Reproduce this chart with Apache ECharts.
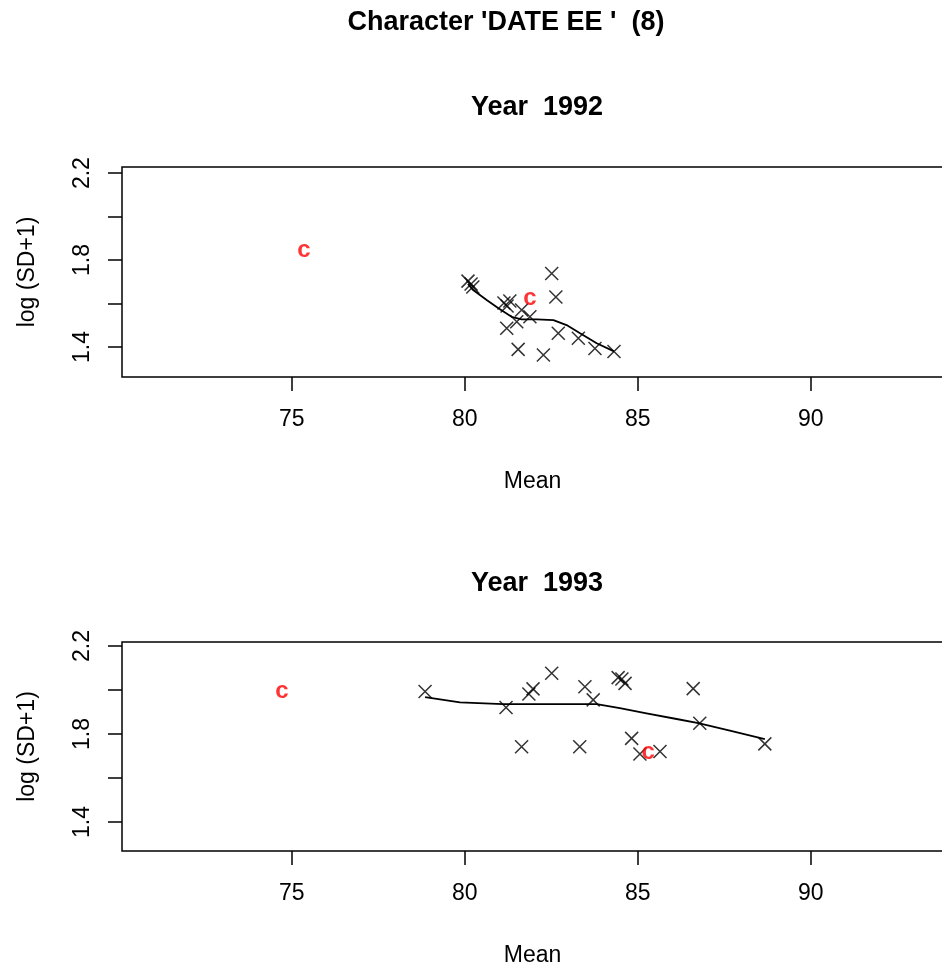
<!DOCTYPE html>
<html>
<head>
<meta charset="utf-8">
<script src="https://cdn.jsdelivr.net/npm/echarts@6/dist/echarts.min.js"></script>
<style>
html,body{margin:0;padding:0;background:#fff;overflow:hidden;}
#chart{width:942px;height:969px;}
</style>
</head>
<body>
<div id="chart"></div>
<script>
// ---- data ----
const mainTitle = "Character 'DATE EE '  (8)";
const panelTitles = ["Year  1992", "Year  1993"];
const xTicks = [75, 80, 85, 90];
const yTicks = [1.4, 1.6, 1.8, 2.0, 2.2];
const yTickLabels = [1.4, 1.8, 2.2];

// Year 1992: samples (x = mean, y = log(SD+1))
const points1992 = [
  [80.09, 1.703], [80.18, 1.690], [80.23, 1.676], [82.51, 1.738], [82.63, 1.630],
  [81.13, 1.602], [81.30, 1.612], [81.22, 1.589], [81.64, 1.570], [81.88, 1.539],
  [81.50, 1.516], [81.21, 1.486], [82.70, 1.463], [83.28, 1.440], [83.76, 1.393],
  [84.31, 1.379], [81.54, 1.389], [82.27, 1.363]
];
const control1992 = [[75.35, 1.851], [81.88, 1.630]];
const smooth1992 = [
  [80.09, 1.690], [80.24, 1.662], [80.63, 1.616], [80.97, 1.578], [81.35, 1.539],
  [81.64, 1.527], [82.08, 1.527], [82.56, 1.524], [82.94, 1.501], [83.33, 1.463],
  [83.81, 1.417], [84.31, 1.380]
];

// Year 1993
const points1993 = [
  [78.85, 1.993], [81.19, 1.920], [81.85, 1.982], [81.97, 2.005], [82.51, 2.076],
  [83.47, 2.015], [83.71, 1.955], [84.43, 2.056], [84.54, 2.050], [84.63, 2.030],
  [86.60, 2.006], [86.79, 1.849], [88.67, 1.755], [81.64, 1.742], [83.32, 1.742],
  [84.82, 1.780], [85.06, 1.709], [85.64, 1.720]
];
const control1993 = [[74.71, 2.000], [85.30, 1.720]];
const smooth1993 = [
  [78.85, 1.967], [79.86, 1.944], [81.10, 1.936], [82.17, 1.936], [83.81, 1.936],
  [84.48, 1.917], [85.25, 1.894], [86.12, 1.868], [86.75, 1.849], [87.66, 1.815],
  [88.67, 1.777]
];

// ---- chart ----
const FONT = '"Liberation Sans", Arial, Helvetica, sans-serif';
const chart = echarts.init(document.getElementById('chart'), null, {renderer: 'canvas'});

function xAxisDef(gi) {
  return {
    type: 'value', gridIndex: gi, min: 70.09, max: 93.82,
    name: 'Mean', nameLocation: 'middle', nameGap: 93,
    nameTextStyle: {fontFamily: FONT, fontSize: 23, color: '#000'},
    axisLine: {show: false},
    axisTick: {show: true, length: 14, inside: false, customValues: xTicks,
               lineStyle: {color: '#000', width: 1.5}},
    axisLabel: {show: true, customValues: xTicks, margin: 31,
                fontFamily: FONT, fontSize: 23, color: '#000', lineHeight: 23},
    splitLine: {show: false}
  };
}
function yAxisDef(gi, mn, mx) {
  return {
    type: 'value', gridIndex: gi, min: mn, max: mx,
    name: 'log (SD+1)', nameLocation: 'middle', nameGap: 83, nameRotate: 90,
    nameTextStyle: {fontFamily: FONT, fontSize: 23, color: '#000'},
    axisLine: {show: false},
    axisTick: {show: true, length: 14, inside: false, customValues: yTicks,
               lineStyle: {color: '#000', width: 1.5}},
    axisLabel: {show: true, customValues: yTickLabels, margin: 28, rotate: 90,
                fontFamily: FONT, fontSize: 23, color: '#000', lineHeight: 23,
                formatter: v => v.toFixed(1)},
    splitLine: {show: false}
  };
}
const crossSymbol = 'path://M0,0L10,10M10,0L0,10';
function crossSeries(idx, data) {
  return {
    type: 'scatter', xAxisIndex: idx, yAxisIndex: idx, data: data,
    symbol: crossSymbol, symbolSize: 13, silent: true,
    itemStyle: {color: 'rgba(0,0,0,0)', borderColor: '#000', borderWidth: 1.5}
  };
}
function controlSeries(idx, data) {
  return {
    type: 'scatter', xAxisIndex: idx, yAxisIndex: idx, data: data,
    symbol: 'circle', symbolSize: 2, silent: true, z: 5,
    itemStyle: {color: 'rgba(255,255,255,0)', borderWidth: 0},
    label: {show: true, formatter: 'c', position: 'inside', offset: [0, 1],
            color: '#ff0000', fontFamily: FONT, fontSize: 24, fontWeight: 'bold'}
  };
}
function lineSeries(idx, data) {
  return {
    type: 'line', xAxisIndex: idx, yAxisIndex: idx, data: data,
    symbol: 'none', silent: true, smooth: false,
    lineStyle: {color: '#000', width: 1.8}
  };
}

const option = {
  backgroundColor: '#fff',
  animation: false,
  grid: [
    {left: 122, top: 167, height: 210, width: 821, show: true, outerBoundsMode: 'none',
     borderColor: '#000', borderWidth: 1.5, backgroundColor: 'transparent'},
    {left: 122, top: 642, height: 209, width: 821, show: true, outerBoundsMode: 'none',
     borderColor: '#000', borderWidth: 1.5, backgroundColor: 'transparent'}
  ],
  xAxis: [xAxisDef(0), xAxisDef(1)],
  yAxis: [yAxisDef(0, 1.262, 2.228), yAxisDef(1, 1.268, 2.218)],
  series: [
    lineSeries(0, smooth1992), crossSeries(0, points1992), controlSeries(0, control1992),
    lineSeries(1, smooth1993), crossSeries(1, points1993), controlSeries(1, control1993)
  ],
  graphic: [
    {type: 'text', x: 506, y: 23, style: {text: mainTitle, fontFamily: FONT, fontSize: 27,
      fontWeight: 'bold', fill: '#000', align: 'center', verticalAlign: 'middle'}},
    {type: 'text', x: 537, y: 108, style: {text: panelTitles[0], fontFamily: FONT, fontSize: 27,
      fontWeight: 'bold', fill: '#000', align: 'center', verticalAlign: 'middle'}},
    {type: 'text', x: 537, y: 584, style: {text: panelTitles[1], fontFamily: FONT, fontSize: 27,
      fontWeight: 'bold', fill: '#000', align: 'center', verticalAlign: 'middle'}}
  ]
};
chart.setOption(option);
</script>
</body>
</html>
